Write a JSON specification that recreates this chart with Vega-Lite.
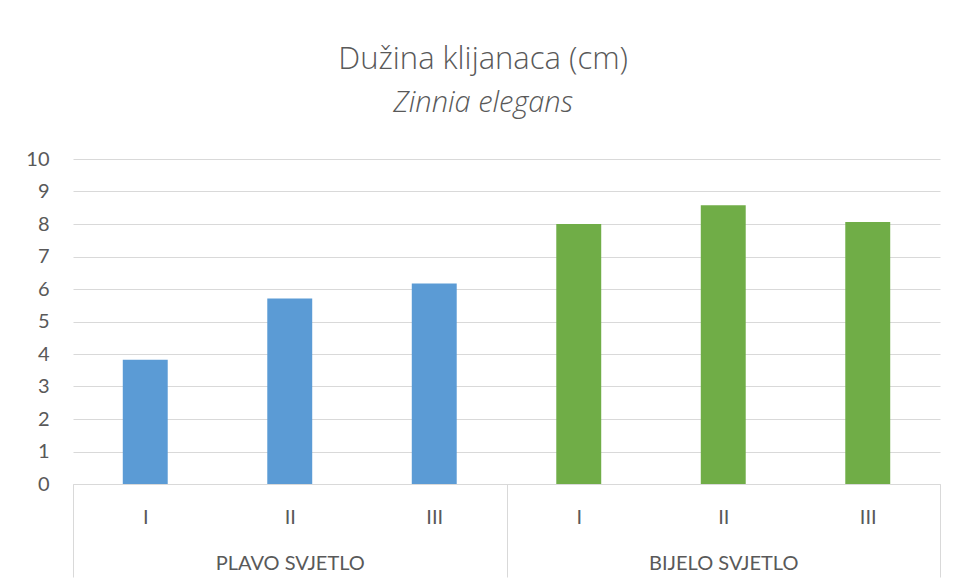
{
  "$schema": "https://vega.github.io/schema/vega-lite/v6.json",
  "width": 867,
  "height": 325,
  "padding": {"left": 25, "top": 44, "right": 14, "bottom": 0},
  "background": "white",
  "config": {
    "font": "Lato",
    "view": {"stroke": null}
  },
  "title": {
    "text": "Dužina klijanaca (cm)",
    "subtitle": "Zinnia elegans",
    "font": "Open Sans",
    "subtitleFont": "Open Sans",
    "fontSize": 31,
    "subtitleFontSize": 29,
    "fontWeight": 300,
    "subtitleFontWeight": 300,
    "subtitleFontStyle": "italic",
    "color": "#595959",
    "subtitleColor": "#595959",
    "anchor": "middle",
    "frame": "bounds",
    "subtitlePadding": 13,
    "offset": 30
  },
  "data": {
    "values": [
      {"stupac": "PLAVO SVJETLO|I", "grupa": "PLAVO SVJETLO", "uzorak": "I", "duzina": 3.82},
      {"stupac": "PLAVO SVJETLO|II", "grupa": "PLAVO SVJETLO", "uzorak": "II", "duzina": 5.71},
      {"stupac": "PLAVO SVJETLO|III", "grupa": "PLAVO SVJETLO", "uzorak": "III", "duzina": 6.17},
      {"stupac": "BIJELO SVJETLO|I", "grupa": "BIJELO SVJETLO", "uzorak": "I", "duzina": 8.0},
      {"stupac": "BIJELO SVJETLO|II", "grupa": "BIJELO SVJETLO", "uzorak": "II", "duzina": 8.58},
      {"stupac": "BIJELO SVJETLO|III", "grupa": "BIJELO SVJETLO", "uzorak": "III", "duzina": 8.06}
    ]
  },
  "mark": {"type": "bar", "width": {"band": 0.311}},
  "encoding": {
    "x": {
      "field": "stupac",
      "type": "nominal",
      "sort": null,
      "scale": {"paddingInner": 0, "paddingOuter": 0},
      "axis": {
        "title": null,
        "labelAngle": 0,
        "labelExpr": "split(datum.value, '|')[1] == 'II' ? [split(datum.value, '|')[1], split(datum.value, '|')[0]] : split(datum.value, '|')[1]",
        "labelFontSize": 20,
        "labelColor": "#595959",
        "labelLineHeight": 46,
        "labelOverlap": false,
        "labelBound": false,
        "labelPadding": -70,
        "domainColor": "#d9d9d9",
        "domainWidth": 1,
        "tickBand": "extent",
        "tickSize": 93,
        "tickWidth": 1,
        "tickColor": {
          "condition": {"test": "datum.extra || datum.value === 'PLAVO SVJETLO|III' || datum.value === 'BIJELO SVJETLO|III'", "value": "#d9d9d9"},
          "value": "transparent"
        }
      }
    },
    "y": {
      "field": "duzina",
      "type": "quantitative",
      "scale": {"domain": [0, 10]},
      "axis": {
        "title": null,
        "values": [0, 1, 2, 3, 4, 5, 6, 7, 8, 9, 10],
        "domain": false,
        "ticks": false,
        "labelFontSize": 20,
        "labelColor": "#595959",
        "labelPadding": 24,
        "gridColor": "#d9d9d9",
        "gridWidth": 1
      }
    },
    "color": {
      "field": "grupa",
      "type": "nominal",
      "scale": {"domain": ["PLAVO SVJETLO", "BIJELO SVJETLO"], "range": ["#5B9BD5", "#70AD47"]},
      "legend": null
    }
  }
}
